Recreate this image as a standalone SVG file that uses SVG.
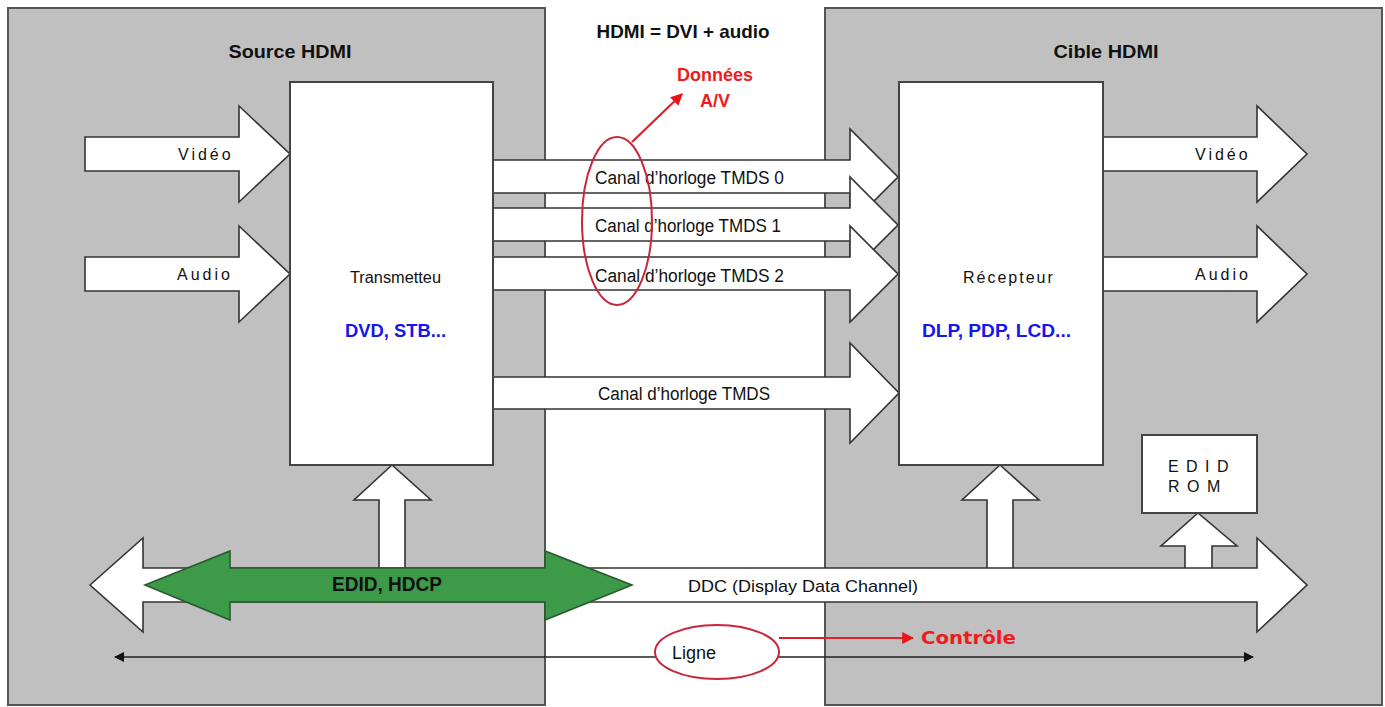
<svg xmlns="http://www.w3.org/2000/svg" width="1385" height="707" viewBox="0 0 1385 707">
  <defs>
    <marker id="tipRed" viewBox="0 0 10 10" refX="9" refY="5" markerWidth="12" markerHeight="12" markerUnits="userSpaceOnUse" orient="auto">
      <path d="M0,0 L10,5 L0,10 Z" fill="#e8141c"/>
    </marker>
    <marker id="tipBlack" viewBox="0 0 10 10" refX="9" refY="5" markerWidth="14" markerHeight="10" markerUnits="userSpaceOnUse" orient="auto-start-reverse">
      <path d="M0,0 L10,5 L0,10 Z" fill="#111"/>
    </marker>
  </defs>
  <style>
    .device { fill: #c0c0c0; stroke: #555; stroke-width: 2; }
    .block { fill: #fff; stroke: #444; stroke-width: 2; }
    .arrow { fill: #fff; stroke: #333; stroke-width: 1.6; stroke-linejoin: miter; }
    .green { fill: #3c9a48; stroke: #2a5a30; stroke-width: 1.6; }
    .t { font-family: "Liberation Sans", Arial, sans-serif; fill: #111; }
    .title { font-size: 18px; font-weight: bold; }
    .lbl { font-size: 16px; }
    .spaced { font-size: 16px; letter-spacing: 3px; }
    .canal { font-size: 18px; }
    .blue { font-size: 18px; font-weight: bold; fill: #1515f0; }
    .red { font-weight: bold; fill: #ee1c1c; }
    .circle { fill: none; stroke: #c8263a; stroke-width: 2; }
  </style>

  <rect width="1385" height="707" fill="#fff"/>

  <!-- HDMI source device -->
  <g id="source">
    <rect class="device" x="8" y="8" width="537" height="697"/>
    <text class="t title" x="290" y="58" text-anchor="middle" textLength="123" lengthAdjust="spacingAndGlyphs">Source HDMI</text>
  </g>

  <!-- HDMI target device -->
  <g id="target">
    <rect class="device" x="825" y="8" width="557" height="697"/>
    <text class="t title" x="1106" y="58" text-anchor="middle" textLength="105" lengthAdjust="spacingAndGlyphs">Cible HDMI</text>
  </g>

  <g id="heading">
    <text class="t" x="683" y="38" text-anchor="middle" font-size="19" font-weight="bold" textLength="173" lengthAdjust="spacingAndGlyphs">HDMI = DVI + audio</text>
  </g>

  <!-- Inputs / outputs -->
  <g id="connectors">
    <!-- inputs into the transmitter -->
    <path class="arrow" d="M85,137 H239 V106 L290,154 L239,202 V171 H85 Z"/>
    <path class="arrow" d="M85,257 H239 V226 L290,274 L239,322 V291 H85 Z"/>
    <!-- outputs from the receiver -->
    <path class="arrow" d="M1103,137 H1257 V106 L1307,154 L1257,202 V171 H1103 Z"/>
    <path class="arrow" d="M1103,257 H1257 V226 L1307,274 L1257,322 V291 H1103 Z"/>

    <!-- TMDS channels -->
    <path class="arrow" d="M493,160 H850 V129 L898,177 L850,225 V193 H493 Z"/>
    <path class="arrow" d="M493,208 H850 V177 L898,225 L850,273 V241 H493 Z"/>
    <path class="arrow" d="M493,257 H850 V226 L898,274 L850,322 V290 H493 Z"/>
    <path class="arrow" d="M493,377 H850 V343 L899,393 L850,443 V409 H493 Z"/>

    <!-- DDC taps up into the transmitter, receiver and EDID ROM -->
    <path class="arrow" d="M379,570 V500 H354 L392,465 L431,500 H405 V570"/>
    <path class="arrow" d="M987,570 V500 H962 L1000,465 L1039,500 H1013 V570"/>
    <path class="arrow" d="M1185,570 V546 H1161 L1198,513 L1237,546 H1212 V570"/>

    <!-- DDC bus -->
    <path class="arrow" d="M90,585 L143,538 V568 H1257 V538 L1307,585 L1257,632 V602 H143 V632 Z"/>
    <!-- EDID / HDCP exchange -->
    <path class="green" d="M145,585 L230,551 V568 H545 V551 L632,585 L545,620 V602 H230 V620 Z"/>

    <!-- control line -->
    <line x1="115" y1="657" x2="1253" y2="657" stroke="#222" stroke-width="1.3" marker-start="url(#tipBlack)" marker-end="url(#tipBlack)"/>

    <!-- callout arrows -->
    <line x1="632" y1="142" x2="682" y2="94" stroke="#e0202a" stroke-width="2.2" marker-end="url(#tipRed)"/>
    <line x1="779" y1="638" x2="913" y2="638" stroke="#e0202a" stroke-width="2.2" marker-end="url(#tipRed)"/>
  </g>

  <!-- Transmitter block -->
  <g id="transmitter">
    <rect class="block" x="290" y="82" width="203" height="383"/>
    <text class="t lbl" x="350" y="283" textLength="91" lengthAdjust="spacingAndGlyphs">Transmetteu</text>
    <text class="t blue" x="345" y="337" textLength="101" lengthAdjust="spacingAndGlyphs">DVD, STB...</text>
  </g>

  <!-- Receiver block -->
  <g id="receiver">
    <rect class="block" x="899" y="82" width="204" height="383"/>
    <text class="t lbl" x="963" y="283" letter-spacing="2">Récepteur</text>
    <text class="t blue" x="922" y="337" textLength="149" lengthAdjust="spacingAndGlyphs">DLP, PDP, LCD...</text>
  </g>

  <!-- EDID ROM -->
  <g id="edid-rom">
    <rect class="block" x="1142" y="435" width="115" height="78"/>
    <text class="t lbl" x="1168" y="472" letter-spacing="1.5">E D I D</text>
    <text class="t lbl" x="1168" y="492" letter-spacing="1.5">R O M</text>
  </g>

  <!-- Arrow labels -->
  <g id="labels">
    <text class="t spaced" x="178" y="160">Vidéo</text>
    <text class="t spaced" x="177" y="280">Audio</text>
    <text class="t spaced" x="1195" y="160">Vidéo</text>
    <text class="t spaced" x="1195" y="280">Audio</text>
    <text class="t canal" x="595" y="184" textLength="189" lengthAdjust="spacingAndGlyphs">Canal d’horloge TMDS 0</text>
    <text class="t canal" x="595" y="232" textLength="186" lengthAdjust="spacingAndGlyphs">Canal d’horloge TMDS 1</text>
    <text class="t canal" x="595" y="282" textLength="189" lengthAdjust="spacingAndGlyphs">Canal d’horloge TMDS 2</text>
    <text class="t canal" x="598" y="400" textLength="172" lengthAdjust="spacingAndGlyphs">Canal d’horloge TMDS</text>
    <text class="t" x="688" y="592" font-size="17" textLength="230" lengthAdjust="spacingAndGlyphs">DDC (Display Data Channel)</text>
    <text class="t" x="332" y="591" font-size="20" font-weight="bold" textLength="110" lengthAdjust="spacingAndGlyphs">EDID, HDCP</text>
  </g>

  <!-- Highlights -->
  <g id="av-data">
    <ellipse class="circle" cx="617" cy="221" rx="35" ry="84"/>
    <text class="t red" x="715" y="81" font-size="18" text-anchor="middle">Données</text>
    <text class="t red" x="715" y="107" font-size="18" text-anchor="middle">A/V</text>
  </g>

  <g id="control-line">
    <ellipse cx="717" cy="652" rx="62" ry="27" fill="#fff" stroke="#c8263a" stroke-width="2"/>
    <text class="t" x="672" y="659" font-size="18">Ligne</text>
    <text x="921" y="644" font-family="'DejaVu Sans', Verdana, sans-serif" font-size="18" font-weight="bold" fill="#ee1c1c" textLength="95" lengthAdjust="spacingAndGlyphs">Contrôle</text>
  </g>
</svg>
